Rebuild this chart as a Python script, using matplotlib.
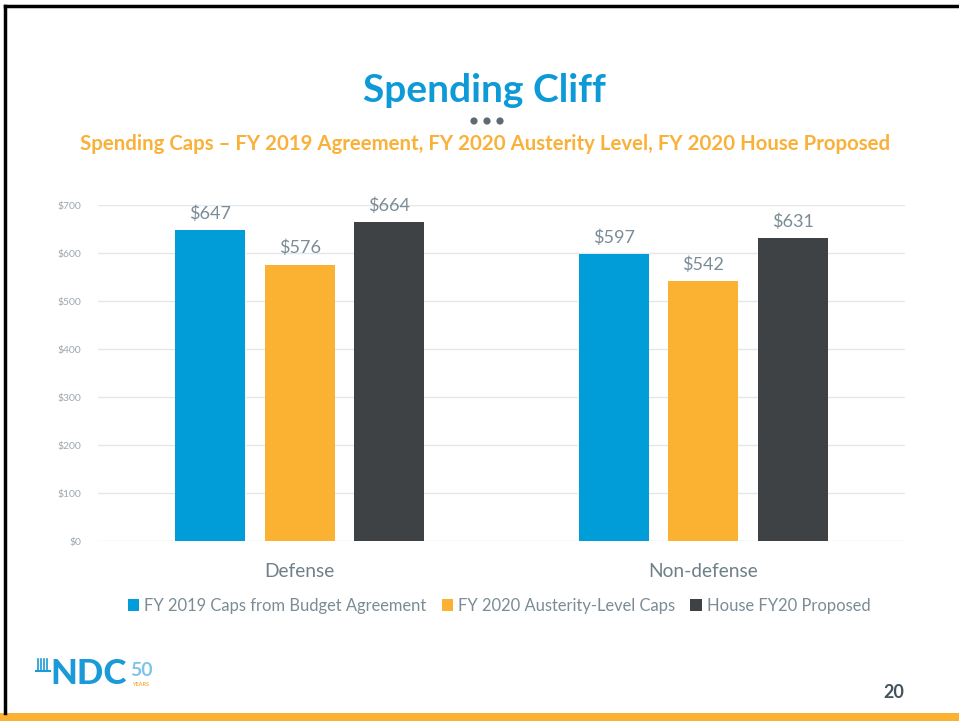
import numpy as np
import matplotlib
matplotlib.use("Agg")
import matplotlib.pyplot as plt
from matplotlib.patches import Rectangle, Circle

categories = ["Defense", "Non-defense"]
series = ["FY 2019 Caps from Budget Agreement", "FY 2020 Austerity-Level Caps", "House FY20 Proposed"]
fy2019_caps = [647, 597]
fy2020_austerity = [576, 542]
house_fy20 = [664, 631]
yticks = [0, 100, 200, 300, 400, 500, 600, 700]
colors = ["#009DD9", "#FBB232", "#3E4244"]

plt.rcParams["font.family"] = ["Lato", "DejaVu Sans"]
W, H = 959, 721
fig = plt.figure(figsize=(W / 100, H / 100), dpi=100)

# slide decorations
deco = fig.add_axes([0, 0, 1, 1])
deco.set_xlim(0, W)
deco.set_ylim(H, 0)
deco.axis("off")
deco.plot([4.5, 4.5], [713, 6], color="black", lw=2.5)
deco.plot([4.5, W], [6, 6], color="black", lw=2.5)
deco.add_patch(Rectangle((0, 713), W, 8, color="#FBB232", lw=0))
for cx in [474, 487, 500]:
    deco.add_patch(Circle((cx, 121), 3.6, color="#5F6B73", lw=0))
deco.text(484, 90, "Spending Cliff", color="#0E9AD7", fontsize=28, fontweight="bold",
          ha="center", va="center")
deco.text(485, 144, "Spending Caps \u2013 FY 2019 Agreement, FY 2020 Austerity Level, FY 2020 House Proposed",
          color="#F9B13A", fontsize=14.7, fontweight="bold", ha="center", va="center")
deco.text(904, 692, "20", color="#44525B", fontsize=13, fontweight="bold", ha="right", va="center")
# logo approximation
for lx in [38, 41, 44, 47]:
    deco.plot([lx, lx], [659, 670], color="#1A9AD6", lw=1.2)
deco.plot([36, 50], [670.5, 670.5], color="#1A9AD6", lw=1.5)
deco.text(50, 674, "NDC", color="#1A9AD6", fontsize=25, fontweight="black", ha="left", va="center")
deco.text(130, 670, "50", color="#7FC4E8", fontsize=14, fontweight="bold", ha="left", va="center")
deco.text(132, 685, "YEARS", color="#F9B13A", fontsize=4, fontweight="bold", ha="left", va="center")

# chart
ax = fig.add_axes([98 / W, 1 - 541 / H, (905 - 98) / W, (541 - 205) / H])
x = np.arange(len(categories))
bw = 0.1735
step = 0.222
for i, vals in enumerate([fy2019_caps, fy2020_austerity, house_fy20]):
    pos = x + (i - 1) * step
    bars = ax.bar(pos, vals, bw, color=colors[i], label=series[i], zorder=3)
    for b, v in zip(bars, vals):
        ax.text(b.get_x() + b.get_width() / 2, v + 17, "${}".format(v), ha="center", va="bottom",
                color="#7B8C96", fontsize=13)

ax.set_xlim(-0.5, 1.5)
ax.set_ylim(0, 700)
ax.set_yticks(yticks)
ax.set_yticklabels(["${}".format(t) for t in yticks], color="#9AA7AF", fontsize=7.5)
ax.set_xticks(x)
ax.set_xticklabels(categories, color="#6F8089", fontsize=13.8)
ax.tick_params(axis="both", length=0)
ax.tick_params(axis="y", pad=12)
ax.tick_params(axis="x", pad=16)
ax.grid(axis="y", color="#E3E8EB", lw=1, zorder=0)
for sp in ax.spines.values():
    sp.set_visible(False)

leg = ax.legend(loc="upper center", bbox_to_anchor=(0.497, -0.125), ncol=3, frameon=False,
                fontsize=11.9, handlelength=0.7, handleheight=0.7, handletextpad=0.3,
                columnspacing=0.9)
for t in leg.get_texts():
    t.set_color("#7B8C96")

fig.savefig("out.png", dpi=100)
